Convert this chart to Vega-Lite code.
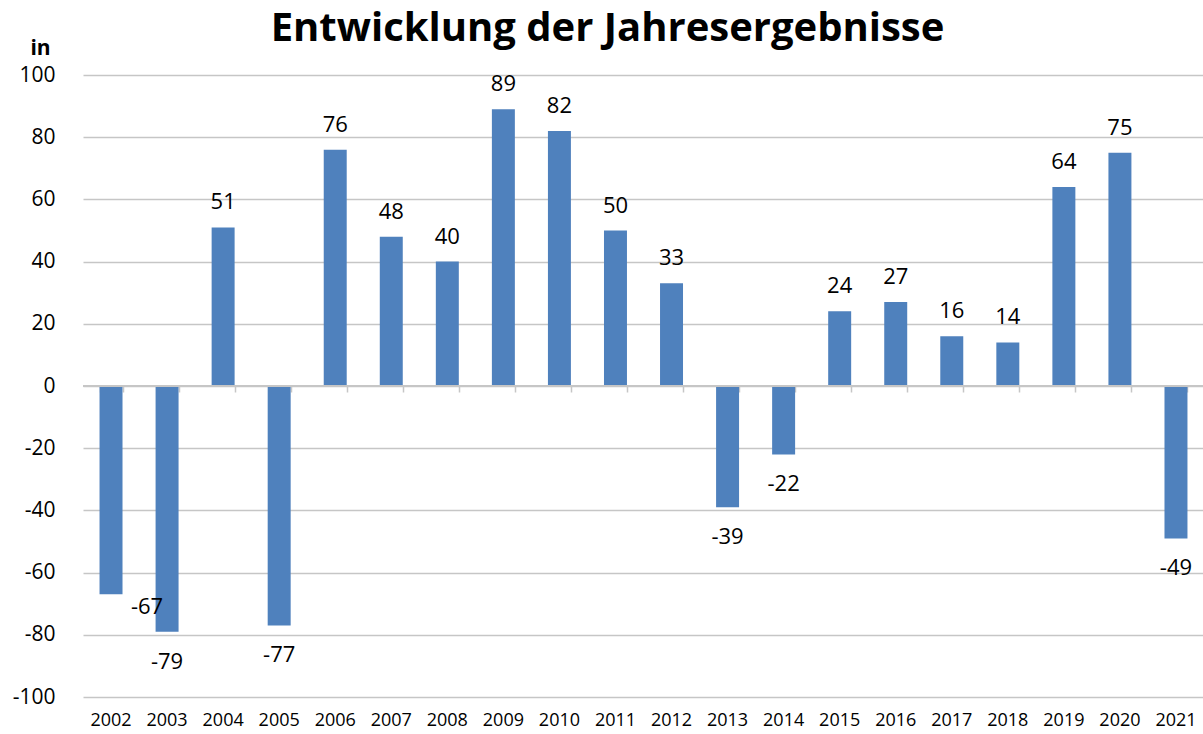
{
  "$schema": "https://vega.github.io/schema/vega-lite/v6.json",
  "width": 1121,
  "height": 622,
  "autosize": "none",
  "padding": {"left": 83, "top": 75, "right": 0, "bottom": 37},
  "background": "white",
  "title": {
    "text": "Entwicklung der Jahresergebnisse",
    "font": "Open Sans",
    "fontWeight": "bold",
    "fontSize": 40,
    "color": "#000000",
    "anchor": "middle",
    "frame": "group",
    "dx": -36,
    "dy": 73,
    "baseline": "alphabetic",
    "offset": 29
  },
  "config": {
    "view": {"stroke": null},
    "font": "Open Sans",
    "axis": {"labelFont": "Open Sans", "titleFont": "Open Sans", "labelColor": "#000000", "titleColor": "#000000"}
  },
  "data": {
    "values": [
      {"Jahr": "2002", "Ergebnis": -67},
      {"Jahr": "2003", "Ergebnis": -79},
      {"Jahr": "2004", "Ergebnis": 51},
      {"Jahr": "2005", "Ergebnis": -77},
      {"Jahr": "2006", "Ergebnis": 76},
      {"Jahr": "2007", "Ergebnis": 48},
      {"Jahr": "2008", "Ergebnis": 40},
      {"Jahr": "2009", "Ergebnis": 89},
      {"Jahr": "2010", "Ergebnis": 82},
      {"Jahr": "2011", "Ergebnis": 50},
      {"Jahr": "2012", "Ergebnis": 33},
      {"Jahr": "2013", "Ergebnis": -39},
      {"Jahr": "2014", "Ergebnis": -22},
      {"Jahr": "2015", "Ergebnis": 24},
      {"Jahr": "2016", "Ergebnis": 27},
      {"Jahr": "2017", "Ergebnis": 16},
      {"Jahr": "2018", "Ergebnis": 14},
      {"Jahr": "2019", "Ergebnis": 64},
      {"Jahr": "2020", "Ergebnis": 75},
      {"Jahr": "2021", "Ergebnis": -49}
    ]
  },
  "resolve": {"axis": {"x": "independent"}},
  "layer": [
    {
      "mark": {"type": "bar", "color": "#4f81bd"},
      "encoding": {
        "x": {
          "field": "Jahr", "type": "ordinal",
          "scale": {"paddingInner": 0.59, "paddingOuter": 0.295},
          "axis": {
            "orient": "bottom", "title": null, "domain": false, "ticks": false, "grid": false,
            "labelAngle": 0, "labelFontSize": 18, "labelPadding": 14
          }
        },
        "y": {
          "field": "Ergebnis", "type": "quantitative",
          "scale": {"domain": [-100, 100], "nice": false},
          "axis": {
            "title": "in", "titleAngle": 0, "titleFontWeight": "bold", "titleFontSize": 21,
            "titleX": -43, "titleY": -21, "titleAlign": "center", "titleBaseline": "alphabetic",
            "values": [-100, -80, -60, -40, -20, 0, 20, 40, 60, 80, 100],
            "labelExpr": "'' + datum.value",
            "domain": false, "ticks": false, "labelFontSize": 21, "labelPadding": 28,
            "grid": true, "gridColor": "#c6c6c6", "gridWidth": 1.5
          }
        }
      }
    },
    {
      "mark": {"type": "rule", "color": "#c6c6c6", "strokeWidth": 1.5},
      "encoding": {"y": {"datum": 0, "type": "quantitative"}}
    },
    {
      "transform": [{"filter": "datum.Ergebnis >= 0"}],
      "mark": {"type": "text", "fontSize": 22, "baseline": "middle", "dy": -25, "color": "#000000"},
      "encoding": {
        "x": {
          "field": "Jahr", "type": "ordinal",
          "axis": {
            "orient": "top", "offset": -311, "title": null, "labels": false, "domain": false,
            "grid": false, "ticks": true, "tickBand": "extent", "tickSize": -6,
            "tickColor": "#c6c6c6", "tickWidth": 1.5
          }
        },
        "y": {"field": "Ergebnis", "type": "quantitative"},
        "text": {"field": "Ergebnis", "type": "nominal"}
      }
    },
    {
      "transform": [{"filter": "datum.Ergebnis < 0 && datum.Jahr != '2002'"}],
      "mark": {"type": "text", "fontSize": 22, "baseline": "middle", "dy": 30, "color": "#000000"},
      "encoding": {
        "x": {"field": "Jahr", "type": "ordinal", "axis": null},
        "y": {"field": "Ergebnis", "type": "quantitative"},
        "text": {"field": "Ergebnis", "type": "nominal"}
      }
    },
    {
      "transform": [{"filter": "datum.Jahr == '2002'"}],
      "mark": {"type": "text", "fontSize": 22, "baseline": "middle", "dy": 13, "dx": 36, "color": "#000000"},
      "encoding": {
        "x": {"field": "Jahr", "type": "ordinal", "axis": null},
        "y": {"field": "Ergebnis", "type": "quantitative"},
        "text": {"field": "Ergebnis", "type": "nominal"}
      }
    }
  ]
}
